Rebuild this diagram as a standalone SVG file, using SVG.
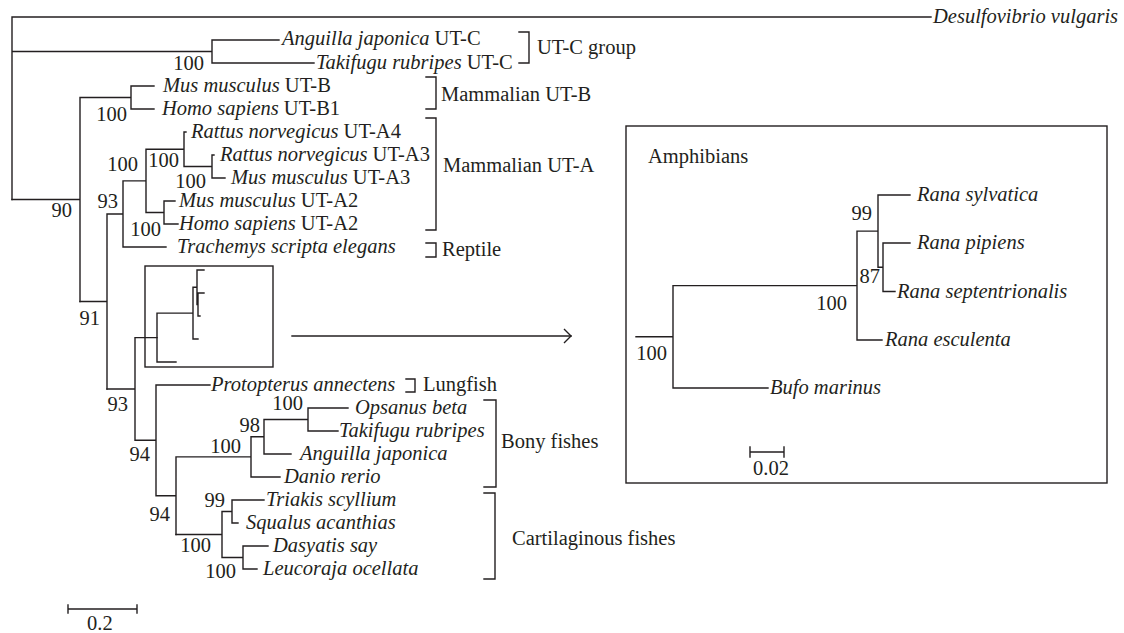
<svg xmlns="http://www.w3.org/2000/svg" width="1124" height="633" viewBox="0 0 1124 633">
<style>
.t{font-family:"Liberation Serif","Times New Roman",serif;font-size:20.5px;fill:#231f20}
.i{font-style:italic}
.ln{fill:none;stroke:#231f20;stroke-width:1.4;stroke-linecap:square}
.bx{fill:none;stroke:#231f20;stroke-width:1.4}
</style>
<defs>
<marker id="open" markerUnits="userSpaceOnUse" markerWidth="12" markerHeight="18" refX="8" refY="8" orient="auto">
<path d="M1,1 L8,8 L1,15" fill="none" stroke="#231f20" stroke-width="1.4"/>
</marker>
</defs>
<rect width="1124" height="633" fill="#fff"/>

<g id="connectors" class="ln">
<path d="M12,17V199.5M12,17H931M12,51.5H212M212,40V63M212,40H279M212,63H314"/>
<path d="M12,199.5H80M80,97.5V301.5M80,97.5H131M131,86V109M131,86H154M131,109H154"/>
<path d="M80,301.5H107M107,214V389M107,214H123M123,180.9V247M123,180.9H146M146,149.3V212.5M146,149.3H184M184,132V166.5M184,132H186M184,166.5H212M212,155V178M212,155H214M212,178H225M146,212.5H164M164,201V224M164,201H175M164,224H178M123,247H166"/>
<path d="M107,389H135M135,337.6V440.3M135,337.6H157M135,440.3H156M156,385V495.7M156,385H210M156,495.7H176M176,456.9V534.5M176,456.9H251M251,436.8V477M251,477H280M251,436.8H264M264,419.5V454M264,454H291M264,419.5H308M308,408V431M308,408H348M308,431H338"/>
<path d="M176,534.5H222M222,511.5V557.5M222,511.5H232M232,500V523M232,500H264M232,523H238M222,557.5H243M243,546V569M243,546H268M243,569H257"/>
<path d="M157,313.1V362M157,313.1H193M157,362H176M193,287.3V339M193,339H198M193,287.3H197M197,270V304.5M197,270H204M197,304.5H198M198,293V316M198,293H204M198,316H200"/>
<path d="M636,336.8H673M673,285.6V388M673,285.6H857M673,388H768M857,231.1V340M857,340H882M857,231.1H878M878,195V267.3M878,195H910M878,267.3H883M883,243V291.5M883,243H910M883,291.5H895"/>
<path d="M292,336H571" marker-end="url(#open)"/>
</g>

<g id="leaf-desulfovibrio"><text class="t i" x="933" y="23">Desulfovibrio vulgaris</text></g>
<g id="leaf-anguilla-utc"><text class="t" x="282" y="45"><tspan class="i">Anguilla japonica</tspan> UT-C</text></g>
<g id="leaf-takifugu-utc"><text class="t" x="316" y="69"><tspan class="i">Takifugu rubripes</tspan> UT-C</text></g>
<g id="leaf-mus-utb"><text class="t" x="163" y="92"><tspan class="i">Mus musculus</tspan> UT-B</text></g>
<g id="leaf-homo-utb1"><text class="t" x="162" y="115"><tspan class="i">Homo sapiens</tspan> UT-B1</text></g>
<g id="leaf-rattus-uta4"><text class="t" x="191" y="138"><tspan class="i">Rattus norvegicus</tspan> UT-A4</text></g>
<g id="leaf-rattus-uta3"><text class="t" x="220" y="161"><tspan class="i">Rattus norvegicus</tspan> UT-A3</text></g>
<g id="leaf-mus-uta3"><text class="t" x="231" y="184"><tspan class="i">Mus musculus</tspan> UT-A3</text></g>
<g id="leaf-mus-uta2"><text class="t" x="179" y="207"><tspan class="i">Mus musculus</tspan> UT-A2</text></g>
<g id="leaf-homo-uta2"><text class="t" x="179" y="230"><tspan class="i">Homo sapiens</tspan> UT-A2</text></g>
<g id="leaf-trachemys"><text class="t i" x="177" y="253">Trachemys scripta elegans</text></g>
<g id="leaf-protopterus"><text class="t i" x="211" y="391">Protopterus annectens</text></g>
<g id="leaf-opsanus"><text class="t i" x="355" y="414">Opsanus beta</text></g>
<g id="leaf-takifugu"><text class="t i" x="339" y="437">Takifugu rubripes</text></g>
<g id="leaf-anguilla"><text class="t i" x="300" y="460">Anguilla japonica</text></g>
<g id="leaf-danio"><text class="t i" x="284" y="483">Danio rerio</text></g>
<g id="leaf-triakis"><text class="t i" x="266" y="506">Triakis scyllium</text></g>
<g id="leaf-squalus"><text class="t i" x="246" y="529">Squalus acanthias</text></g>
<g id="leaf-dasyatis"><text class="t i" x="273" y="552">Dasyatis say</text></g>
<g id="leaf-leucoraja"><text class="t i" x="263" y="575">Leucoraja ocellata</text></g>

<g id="bootstrap" class="t" text-anchor="end">
<text x="204" y="70">100</text>
<text x="127" y="121">100</text>
<text x="72" y="217">90</text>
<text x="118" y="208">93</text>
<text x="138" y="171">100</text>
<text x="179" y="167">100</text>
<text x="206" y="188">100</text>
<text x="161" y="236">100</text>
<text x="100" y="325">91</text>
<text x="128" y="411">93</text>
<text x="150" y="461">94</text>
<text x="170" y="521">94</text>
<text x="241" y="453">100</text>
<text x="260" y="432">98</text>
<text x="303" y="410">100</text>
<text x="225" y="507">99</text>
<text x="211" y="552">100</text>
<text x="236" y="578">100</text>
</g>

<g id="group-utc"><path class="ln" d="M519,32H529V63H519"/><text class="t" x="537" y="54">UT-C group</text></g>
<g id="group-mammalian-utb"><path class="ln" d="M426,77H436V109H426"/><text class="t" x="441" y="101">Mammalian UT-B</text></g>
<g id="group-mammalian-uta"><path class="ln" d="M426,118H436V230H426"/><text class="t" x="443" y="172">Mammalian UT-A</text></g>
<g id="group-reptile"><path class="ln" d="M426,243H436V257H426"/><text class="t" x="442" y="256">Reptile</text></g>
<g id="group-lungfish"><path class="ln" d="M406,379H415V392H406"/><text class="t" x="423" y="391">Lungfish</text></g>
<g id="group-bony"><path class="ln" d="M484,400H496V487H484"/><text class="t" x="501" y="448">Bony fishes</text></g>
<g id="group-cartilaginous"><path class="ln" d="M484,493H495V579H484"/><text class="t" x="512" y="545">Cartilaginous fishes</text></g>

<g id="small-box"><rect class="bx" x="145" y="266" width="128" height="101"/></g>

<g id="amphibian-box">
<rect class="bx" x="626" y="126" width="481" height="357"/>
<text class="t" x="648" y="163">Amphibians</text>
<text class="t i" x="917" y="201">Rana sylvatica</text>
<text class="t i" x="917" y="249">Rana pipiens</text>
<text class="t i" x="897" y="298">Rana septentrionalis</text>
<text class="t i" x="885" y="346">Rana esculenta</text>
<text class="t i" x="770" y="394">Bufo marinus</text>
<g class="t" text-anchor="end">
<text x="872" y="220">99</text>
<text x="880" y="283">87</text>
<text x="847" y="310">100</text>
<text x="667" y="360">100</text>
</g>
</g>

<g id="scale-amphibian">
<path class="ln" d="M750,452H784M750,447V457M784,447V457"/>
<text class="t" x="753" y="475">0.02</text>
</g>
<g id="scale-main">
<path class="ln" d="M68,609H137M68,605V613M137,605V613"/>
<text class="t" x="87" y="630">0.2</text>
</g>
</svg>
